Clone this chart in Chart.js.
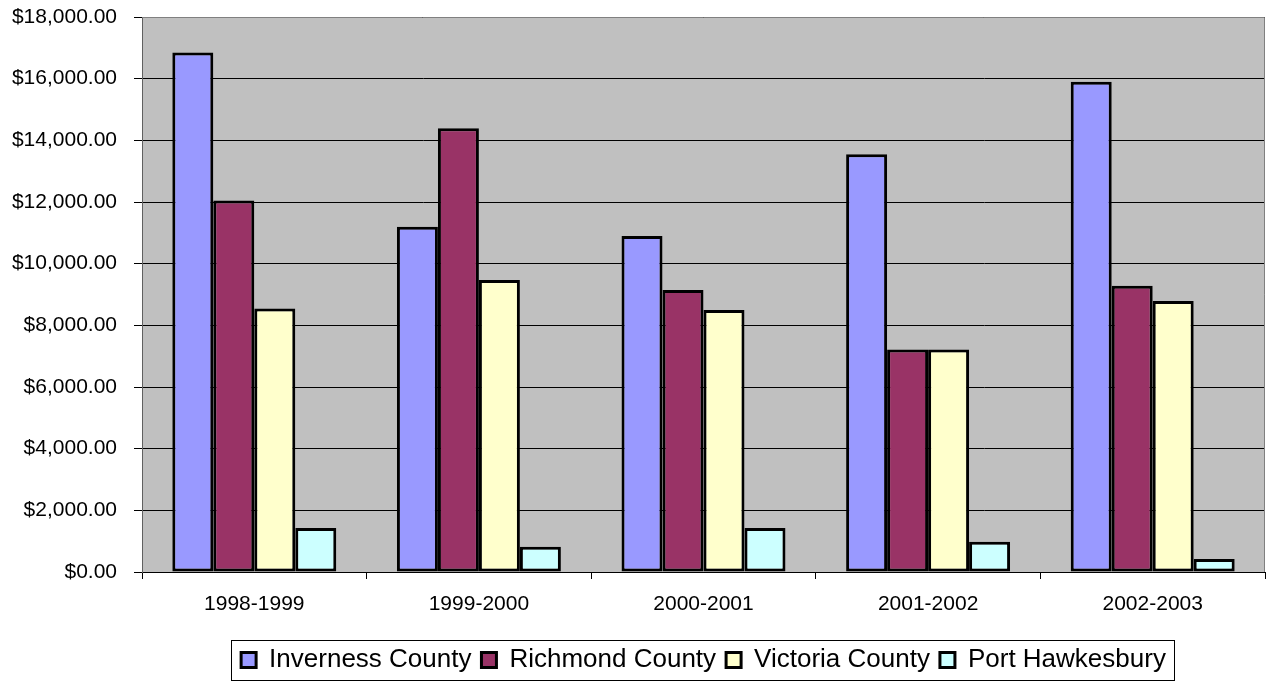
<!DOCTYPE html>
<html>
<head>
<meta charset="utf-8">
<script src="https://cdn.jsdelivr.net/npm/chart.js@4/dist/chart.umd.min.js"></script>
<style>
  html, body { margin: 0; padding: 0; background: #ffffff; }
  #wrap { width: 1266px; height: 683px; position: relative; }
</style>
</head>
<body>
<div id="wrap"><canvas id="c" width="1266" height="683"></canvas></div>
<script>
const categories = ['1998-1999', '1999-2000', '2000-2001', '2001-2002', '2002-2003'];
const seriesNames = ['Inverness County', 'Richmond County', 'Victoria County', 'Port Hawkesbury'];
const inverness = [16850, 11200, 10900, 13550, 15900];
const richmond = [12050, 14390, 9150, 7220, 9280];
const victoria = [8550, 9470, 8500, 7220, 8790];
const portHawkesbury = [1430, 820, 1430, 980, 420];
const yMin = 0, yMax = 18000, yStep = 2000;

const seriesColors = ['#9999FF', '#993366', '#FFFFCC', '#CCFFFF'];
const seriesValues = [inverness, richmond, victoria, portHawkesbury];

const FONT = "'Liberation Sans', Arial, sans-serif";

const plotBg = {
  id: 'plotBg',
  beforeDraw(chart) {
    const {ctx, chartArea: a} = chart;
    ctx.save();
    ctx.fillStyle = '#C0C0C0';
    ctx.fillRect(a.left, a.top, a.right - a.left, a.bottom - a.top);
    ctx.restore();
  },
  afterDatasetsDraw(chart) {
    const {ctx, chartArea: a} = chart;
    ctx.save();
    ctx.strokeStyle = '#808080';
    ctx.lineWidth = 1;
    ctx.beginPath();
    ctx.moveTo(a.left, a.top + 0.5);
    ctx.lineTo(a.right - 0.5, a.top + 0.5);
    ctx.lineTo(a.right - 0.5, a.bottom);
    ctx.stroke();
    ctx.restore();
  },
  afterDraw(chart) {
    const lg = chart.legend;
    if (!lg || !lg.legendHitBoxes || !lg.legendHitBoxes.length) return;
    const boxes = lg.legendHitBoxes;
    let l = Infinity, r = -Infinity, cy = 0;
    boxes.forEach(b => { l = Math.min(l, b.left); r = Math.max(r, b.left + b.width); cy += b.top + b.height / 2; });
    cy /= boxes.length;
    const {ctx} = chart;
    ctx.save();
    ctx.strokeStyle = '#000000';
    ctx.lineWidth = 1;
    ctx.strokeRect(Math.round(l - 10) + 0.5, Math.round(cy - 20) + 0.5, Math.round(r - l + 18), 40);
    ctx.restore();
  }
};

new Chart(document.getElementById('c'), {
  type: 'bar',
  data: {
    labels: categories,
    datasets: seriesNames.map((name, i) => ({
      label: name,
      data: seriesValues[i],
      backgroundColor: seriesColors[i],
      borderColor: '#000000',
      borderWidth: 3,
      borderSkipped: false,
      categoryPercentage: 0.73,
      barPercentage: 1.0
    }))
  },
  options: {
    responsive: false,
    animation: false,
    devicePixelRatio: 1,
    layout: { padding: { left: 0, right: 1, top: 17, bottom: 0 } },
    plugins: {
      tooltip: { enabled: false },
      legend: {
        position: 'bottom',
        fullSize: false,
        labels: {
          font: { family: FONT, size: 26 },
          color: '#000000',
          boxWidth: 15,
          boxHeight: 15,
          padding: 10
        }
      }
    },
    scales: {
      x: {
        grid: {
          display: true,
          drawOnChartArea: false,
          drawTicks: true,
          tickLength: 7,
          color: '#000000',
          offset: true
        },
        border: { display: true, color: '#000000', width: 1 },
        ticks: {
          font: { family: FONT, size: 21 },
          color: '#000000',
          padding: 13
        },
        afterFit(scale) { scale.height = 65; }
      },
      y: {
        min: yMin,
        max: yMax,
        grid: {
          color: '#000000',
          lineWidth: 1,
          drawTicks: true,
          tickLength: 8,
          tickColor: '#000000'
        },
        border: { display: true, color: '#606060', width: 1 },
        ticks: {
          stepSize: yStep,
          font: { family: FONT, size: 21 },
          color: '#000000',
          padding: 17,
          callback: v => '$' + Number(v).toLocaleString('en-US', {minimumFractionDigits: 2, maximumFractionDigits: 2})
        },
        afterFit(scale) { scale.width = 142; scale.paddingTop = 0; scale.paddingBottom = 0; }
      }
    }
  },
  plugins: [plotBg]
});
</script>
</body>
</html>
